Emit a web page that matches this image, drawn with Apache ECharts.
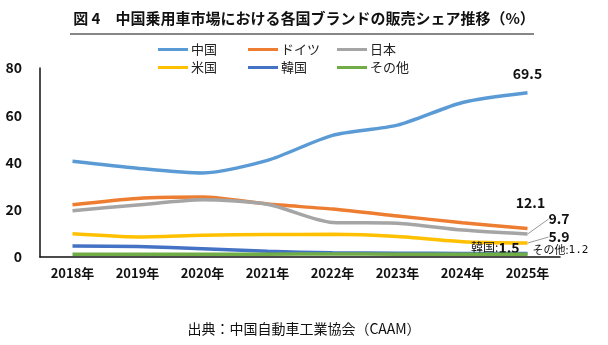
<!DOCTYPE html>
<html><head><meta charset="utf-8">
<script src="https://cdn.jsdelivr.net/npm/echarts@6/dist/echarts.min.js"></script>
<style>html,body{margin:0;padding:0;background:#fff}#c{width:608px;height:345px}</style>
</head><body><div id="c"></div>
<script>
const years = ['2018年','2019年','2020年','2021年','2022年','2023年','2024年','2025年'];
const seriesNames = ['中国','ドイツ','日本','米国','韓国','その他'];
const china   = [40.5, 37.6, 35.6, 40.9, 51.5, 55.8, 65.4, 69.5];
const germany = [22.1, 24.8, 25.4, 22.4, 20.3, 17.4, 14.5, 12.1];
const japan   = [19.6, 22.0, 24.2, 22.3, 14.6, 14.3, 11.4, 9.7];
const usa     = [9.8, 8.5, 9.2, 9.5, 9.6, 8.7, 6.5, 5.9];
const korea   = [4.7, 4.4, 3.5, 2.4, 1.8, 1.6, 1.5, 1.5];
const others  = [1.2, 1.2, 1.2, 1.2, 1.3, 1.2, 1.2, 1.2];
const yTicks  = [0, 20, 40, 60, 80];
const titleText = '図 4　中国乗用車市場における各国ブランドの販売シェア推移（%）';
const sourceText = '出典：中国自動車工業協会（CAAM）';

const FONT = '"Noto Sans CJK JP", "Noto Sans", sans-serif';
const colors = ['#5B9BD5','#ED7D31','#A5A5A5','#FFC000','#4472C4','#70AD47'];
const values = [china, germany, japan, usa, korea, others];

const bold14 = {fontWeight:'bold', fontSize:14, color:'#111', fontFamily:FONT};
const endLabels = [
  {show:true, formatter:'{b|{c}}', position:'top', distance:12, rich:{b:bold14}},
  {show:true, formatter:'{b|{c}}', position:'top', distance:19, offset:[3,0], rich:{b:bold14}},
  {show:true, formatter:'{b|{c}}', position:'right', distance:4, rich:{b:bold14}},
  {show:true, formatter:'{b|{c}}', position:'right', distance:4, rich:{b:bold14}},
  {show:true, formatter:'{n|韓国:}{b|{c}}', position:'left', distance:8, offset:[0,-6],
   rich:{n:{fontSize:12, color:'#111', fontFamily:FONT}, b:bold14}},
  {show:true, formatter:'{n|その他:}{m|{c}}', position:'right', distance:5, offset:[0,-4],
   backgroundColor:'#fff',
   rich:{n:{fontSize:11, color:'#111', fontFamily:FONT}, m:{fontSize:11, color:'#111', fontFamily:'DejaVu Sans Mono'}}}
];
const layouts = [null, null, {dx:17, dy:-15}, {dx:17, dy:-6}, null, null];

const series = seriesNames.map((name, si) => {
  const arr = values[si];
  const s = {
    name, type:'line', smooth:0.25, symbol:'circle', symbolSize:0, showSymbol:true,
    lineStyle:{width:3.5, color:colors[si]}, itemStyle:{color:colors[si]},
    z: 2 + si,
    label:{show:false},
    labelLine: {show: !!layouts[si], lineStyle:{color:'#999', width:1}, length2:0},
    data: arr.map((v, i) => i === arr.length - 1 ? {value:v, label:endLabels[si]} : v)
  };
  if (layouts[si]) s.labelLayout = layouts[si];
  return s;
});

const legendPos = [[158,43],[248,43],[337,43],[158,61],[248,61],[337,61]];
const legends = seriesNames.map((n, i) => ({
  data:[n], left:legendPos[i][0], top:legendPos[i][1], padding:0,
  icon:'rect', itemWidth:30, itemHeight:3, itemGap:0,
  textStyle:{fontSize:13, color:'#222', fontFamily:FONT, padding:[0,0,0,-2]}
}));

const chart = echarts.init(document.getElementById('c'), null, {renderer:'canvas'});
chart.setOption({
  animation:false,
  backgroundColor:'#fff',
  color: colors,
  legend: legends,
  grid:{left:40, right:48, top:68, bottom:88, containLabel:false},
  xAxis:{type:'category', data:years, boundaryGap:true,
    axisLine:{lineStyle:{color:'#111', width:1.5}}, axisTick:{show:false},
    axisLabel:{fontWeight:'bold', fontSize:13, color:'#111', margin:10, fontFamily:FONT}},
  yAxis:{type:'value', min:yTicks[0], max:yTicks[yTicks.length-1], interval:yTicks[1]-yTicks[0],
    axisLine:{show:true, lineStyle:{color:'#111', width:1.5}}, axisTick:{show:false},
    splitLine:{show:false},
    axisLabel:{fontWeight:'bold', fontSize:14, color:'#111', margin:18, fontFamily:FONT}},
  series,
  graphic:[
    {type:'text', left:'center', top:11, style:{text:titleText, font:'bold 15px '+FONT, fill:'#111'}},
    {type:'line', shape:{x1:70, y1:34, x2:534, y2:34}, style:{stroke:'#111', lineWidth:1}},
    {type:'text', left:'center', top:322, style:{text:sourceText, font:'14px '+FONT, fill:'#111'}}
  ]
});
</script></body></html>
